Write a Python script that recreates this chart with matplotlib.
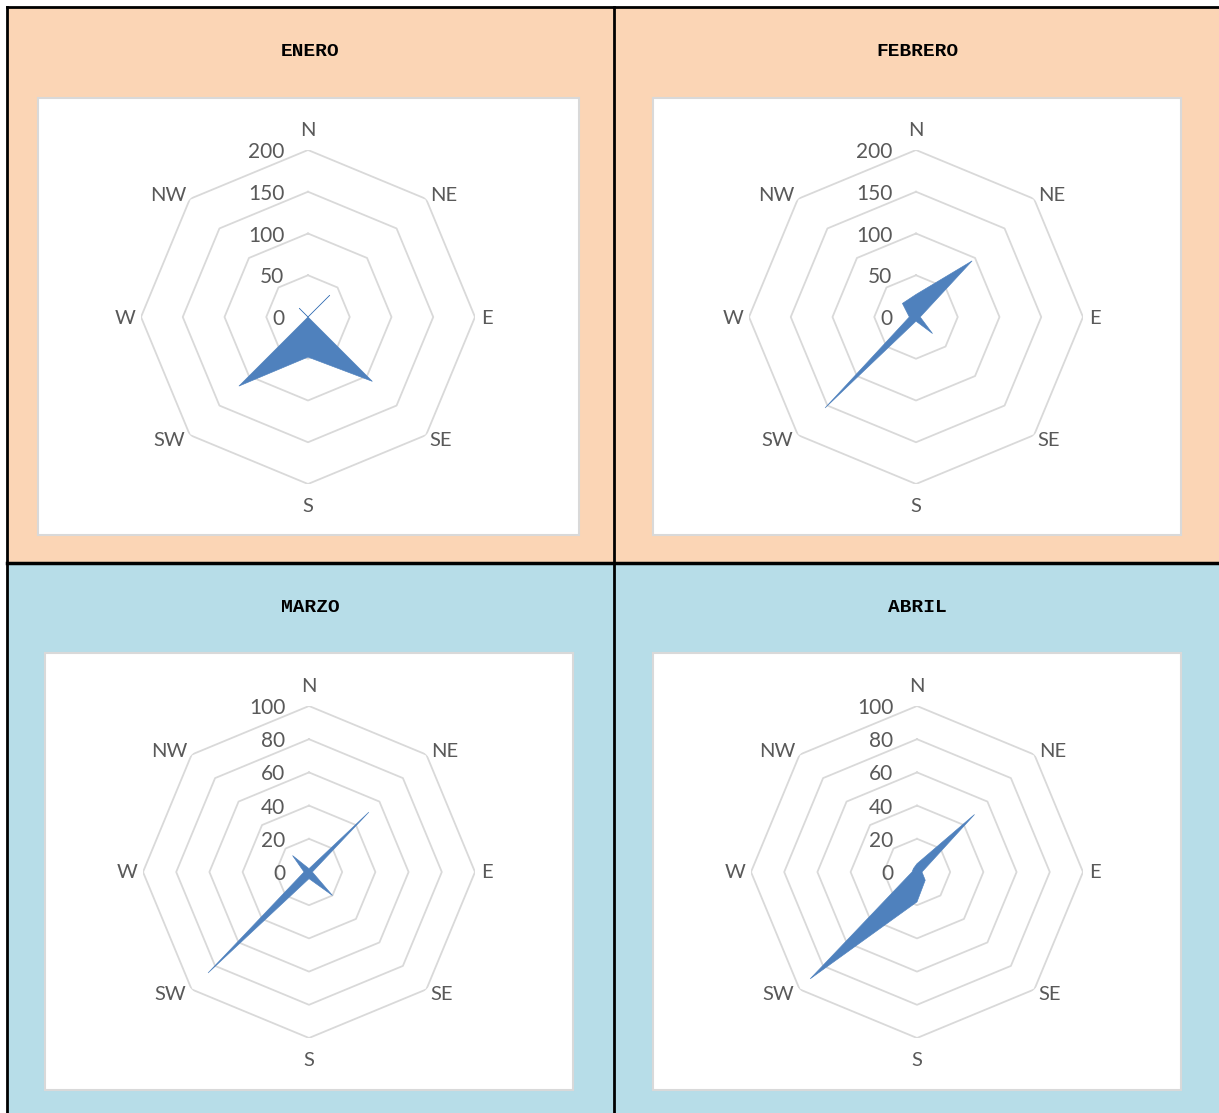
import numpy as np
import matplotlib
matplotlib.use("Agg")
import matplotlib.pyplot as plt
from matplotlib.patches import Rectangle

# ---------------- data ----------------
directions = ["N", "NE", "E", "SE", "S", "SW", "W", "NW"]
months = ["ENERO", "FEBRERO", "MARZO", "ABRIL"]
enero = [0, 37, 0, 109, 48, 117, 0, 15]
febrero = [27, 95, 5, 28, 5, 154, 8, 23]
marzo = [2, 51, 2, 20, 4, 86, 3, 14]
abril = [5, 49, 3, 7, 18, 91, 3, 3]
ticks_top = [0, 50, 100, 150, 200]
ticks_bottom = [0, 20, 40, 60, 80, 100]

W, H = 1219, 1113
fig = plt.figure(figsize=(W / 100, H / 100), dpi=100)
fig.patch.set_facecolor("white")

PEACH = "#FBD5B5"
BLUE = "#B7DDE8"
FILL = "#4F81BD"
RING = "#D9D9D9"
TXT = "#595959"


def rect_px(x0, y0, x1, y1, **kw):
    r = Rectangle((x0 / W, 1 - y1 / H), (x1 - x0) / W, (y1 - y0) / H,
                  transform=fig.transFigure, **kw)
    fig.add_artist(r)
    return r


def line_px(x0, y0, x1, y1, lw):
    fig.add_artist(plt.Line2D([x0 / W, x1 / W], [1 - y0 / H, 1 - y1 / H],
                              transform=fig.transFigure, color="black",
                              lw=lw, zorder=-1))


# panel backgrounds
rect_px(8, 8, W, 563, facecolor=PEACH, edgecolor="none", zorder=-10)
rect_px(8, 563, W, H, facecolor=BLUE, edgecolor="none", zorder=-10)

# chart white boxes
boxes = [(38, 98, 579, 535), (653, 98, 1181, 535),
         (45, 653, 573, 1090), (653, 653, 1181, 1090)]
for b in boxes:
    rect_px(*b, facecolor="white", edgecolor=RING, lw=1.5, zorder=-5)

# borders
line_px(7, 7, W, 7, 2)
line_px(7, 7, 7, H, 2)
line_px(614, 7, 614, H, 2)
line_px(7, 563, W, 563, 2.5)

# titles
title_pos = [(310, 52), (917, 52), (310, 607), (917, 607)]
for name, (tx, ty) in zip(months, title_pos):
    fig.text(tx / W, 1 - ty / H, name, ha="center", va="center",
             family="Liberation Mono", weight="bold", fontsize=14,
             color="black")

# radar charts
centers = [(308, 317, 167), (916, 317, 167), (309, 872, 166), (917, 872, 166)]
series = [enero, febrero, marzo, abril]
tick_sets = [ticks_top, ticks_top, ticks_bottom, ticks_bottom]

# label offsets from the outer vertex, in pixels (x right, y down)
lab_off = [(0, -20), (18, -3), (12, 1), (15, 5), (0, 22), (-21, 5), (-16, 1), (-22, -3)]

theta = np.linspace(0, 2 * np.pi, len(directions), endpoint=False)
theta_c = np.append(theta, theta[0])
PT = 72 / 100  # points per pixel

for (cx, cy, rad), vals, ticks in zip(centers, series, tick_sets):
    ax = fig.add_axes([(cx - rad) / W, (H - cy - rad) / H, 2 * rad / W, 2 * rad / H],
                      projection="polar")
    ax.set_theta_zero_location("N")
    ax.set_theta_direction(-1)
    rmax = ticks[-1]
    ax.set_ylim(0, rmax)
    ax.grid(False)
    ax.spines["polar"].set_visible(False)
    ax.patch.set_visible(False)
    ax.set_xticks([])
    ax.set_yticks([])

    for t in ticks[1:]:
        ax.plot(theta_c, [t] * len(theta_c), color=RING, lw=1.3, zorder=1)

    v = np.append(vals, vals[0])
    ax.fill(theta_c, v, facecolor=FILL, edgecolor=FILL, lw=0.45, zorder=3)

    for th, lab, (ox, oy) in zip(theta, directions, lab_off):
        ax.annotate(lab, xy=(th, rmax), xytext=(ox * PT, -oy * PT),
                    textcoords="offset points", ha="center", va="center",
                    fontsize=14.5, color=TXT, family="Lato", annotation_clip=False)
    for t in ticks:
        ax.annotate(str(t), xy=(0, t), xytext=(-17, 0),
                    textcoords="offset points", ha="right", va="center_baseline",
                    fontsize=15, color=TXT, family="Lato")

fig.savefig("out.png", dpi=100)
